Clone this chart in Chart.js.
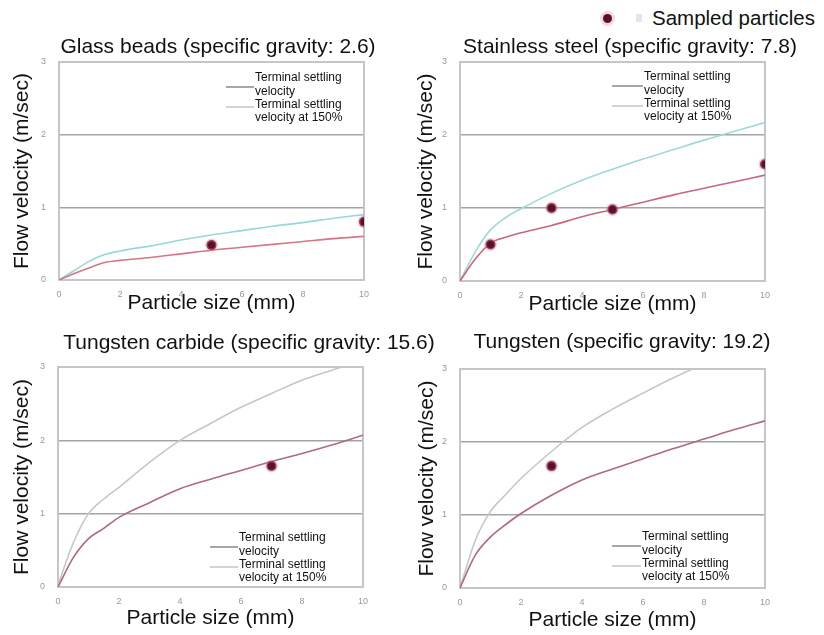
<!DOCTYPE html>
<html>
<head>
<meta charset="utf-8">
<script src="https://cdn.jsdelivr.net/npm/chart.js@4.4.0/dist/chart.umd.min.js"></script>
<style>
  html, body { margin: 0; padding: 0; background: #fff; overflow: hidden; }
  body { width: 824px; height: 635px; position: relative; font-family: "Liberation Sans", Arial, sans-serif; }
  canvas { position: absolute; }
  #sampled { position: absolute; left: 596px; top: 6px; height: 24px; display: flex; align-items: center; font-size: 20.5px; color: #111; }
  #sampled .dot { width: 9px; height: 9px; border-radius: 50%; background: #5a1028; box-shadow: 0 0 0 3px rgba(230,140,160,0.35); margin-left: 7px; }
  #sampled .ghost { width: 6px; height: 8px; background: #e6e6e6; margin-left: 24px; margin-right: 10px; }
</style>
</head>
<body>
<div id="sampled"><span class="dot"></span><span class="ghost"></span>Sampled particles</div>
<canvas id="c1"></canvas>
<canvas id="c2"></canvas>
<canvas id="c3"></canvas>
<canvas id="c4"></canvas>
<script>
// particle size (mm) at which each curve was read
const particleSize = [0, 0.5, 1, 1.5, 2, 3, 4, 5, 6, 7, 8, 9, 10];

const glassTerminal = [0, 0.09, 0.17, 0.24, 0.27, 0.31, 0.36, 0.41, 0.45, 0.49, 0.53, 0.57, 0.6];
const glass150 = [0, 0.13, 0.26, 0.35, 0.4, 0.47, 0.55, 0.62, 0.68, 0.74, 0.79, 0.85, 0.9];
const glassSampleSize = [5, 10];
const glassSampleVel = [0.48, 0.8];

const steelTerminal = [0, 0.3, 0.52, 0.6, 0.66, 0.76, 0.88, 0.98, 1.08, 1.18, 1.27, 1.36, 1.45];
const steel150 = [0, 0.4, 0.7, 0.87, 0.99, 1.2, 1.38, 1.53, 1.67, 1.8, 1.93, 2.05, 2.17];
const steelSampleSize = [1, 3, 5, 10];
const steelSampleVel = [0.5, 1.0, 0.98, 1.6];

const carbideTerminal = [0, 0.4, 0.66, 0.8, 0.95, 1.15, 1.34, 1.47, 1.59, 1.71, 1.82, 1.94, 2.07];
const carbide150 = [0.03, 0.6, 1.0, 1.2, 1.36, 1.7, 2.0, 2.23, 2.45, 2.64, 2.82, 2.96, 3.1];
const carbideSampleSize = [7];
const carbideSampleVel = [1.65];

const tungstenTerminal = [0, 0.45, 0.7, 0.87, 1.02, 1.27, 1.48, 1.63, 1.77, 1.91, 2.04, 2.17, 2.29];
const tungsten150 = [0, 0.65, 1.05, 1.28, 1.5, 1.87, 2.2, 2.45, 2.67, 2.88, 3.07, 3.25, 3.43];
const tungstenSampleSize = [3];
const tungstenSampleVel = [1.67];

const xTicks = [0, 2, 4, 6, 8, 10];
const yTicks = [0, 1, 2, 3];

const legendLines = ['Terminal settling', 'velocity', 'Terminal settling', 'velocity at 150%'];

const panels = [
  { id: 'c1', title: 'Glass beads (specific gravity: 2.6)', terminal: glassTerminal, boosted: glass150,
    sx: glassSampleSize, sy: glassSampleVel,
    left: 0, top: 30, w: 436, h: 286, yw: 59, rw: 72, xh: 36, tPad: [5, 1.8], yPad: 10,
    red: '#d47686', cyan: '#96d8d8', leg: [226, 254, 78] },
  { id: 'c2', title: 'Stainless steel (specific gravity: 7.8)', terminal: steelTerminal, boosted: steel150,
    sx: steelSampleSize, sy: steelSampleVel,
    left: 410, top: 30, w: 440, h: 287, yw: 50, rw: 85, xh: 36, tPad: [5, 1.8], yPad: 4,
    red: '#c8677a', cyan: '#9ed9d9', leg: [612, 643, 77] },
  { id: 'c3', title: 'Tungsten carbide (specific gravity: 15.6)', terminal: carbideTerminal, boosted: carbide150,
    sx: carbideSampleSize, sy: carbideSampleVel,
    left: 0, top: 325, w: 498, h: 306, yw: 58, rw: 135, xh: 44, tPad: [5.4, 11.4], yPad: 10,
    red: '#b06a78', cyan: '#c2c8c8', leg: [210, 238, 538] },
  { id: 'c4', title: 'Tungsten (specific gravity: 19.2)', terminal: tungstenTerminal, boosted: tungsten150,
    sx: tungstenSampleSize, sy: tungstenSampleVel,
    left: 410, top: 325, w: 424, h: 308, yw: 50, rw: 69, xh: 45, tPad: [4.4, 14.4], yPad: 5,
    red: '#b06a78', cyan: '#c2c8c8', leg: [612, 641, 537] }
];

const frame = {
  id: 'frame',
  beforeDatasetsDraw(chart) {
    const a = chart.chartArea, ctx = chart.ctx;
    ctx.save();
    ctx.strokeStyle = '#c6c6c6';
    ctx.lineWidth = 2;
    ctx.strokeRect(a.left, a.top, a.right - a.left, a.bottom - a.top);
    ctx.restore();
  }
};

const seriesLegend = {
  id: 'seriesLegend',
  afterDraw(chart, args, opts) {
    const ctx = chart.ctx;
    const x0 = opts.x - opts.left, tx = opts.tx - opts.left, y0 = opts.y - opts.top;
    ctx.save();
    ctx.lineWidth = 1.5;
    ctx.strokeStyle = '#8a8a8a';
    ctx.beginPath(); ctx.moveTo(x0, y0 + 9); ctx.lineTo(tx, y0 + 9); ctx.stroke();
    ctx.strokeStyle = '#c4c4c4';
    ctx.beginPath(); ctx.moveTo(x0, y0 + 29); ctx.lineTo(tx, y0 + 29); ctx.stroke();
    ctx.fillStyle = '#111';
    ctx.font = '12px "Liberation Sans", Arial, sans-serif';
    ctx.textBaseline = 'middle';
    legendLines.forEach((t, i) => ctx.fillText(t, tx + 1, y0 + i * 13.2));
    ctx.restore();
  }
};

panels.forEach(p => {
  const canvas = document.getElementById(p.id);
  canvas.style.left = p.left + 'px';
  canvas.style.top = p.top + 'px';
  canvas.width = p.w;
  canvas.height = p.h;

  new Chart(canvas.getContext('2d'), {
    type: 'line',
    data: {
      datasets: [
        {
          label: 'Sampled particles',
          data: p.sx.map((x, i) => ({ x: x, y: p.sy[i] })),
          showLine: false,
          pointRadius: 5,
          pointBackgroundColor: '#5a1028',
          pointBorderColor: 'rgba(225,130,155,0.4)',
          pointBorderWidth: 3,
          order: 0
        },
        {
          label: 'Terminal settling velocity',
          data: particleSize.map((x, i) => ({ x: x, y: p.terminal[i] })),
          borderColor: p.red,
          borderWidth: 1.6,
          pointRadius: 0,
          cubicInterpolationMode: 'monotone',
          order: 1
        },
        {
          label: 'Terminal settling velocity at 150%',
          data: particleSize.map((x, i) => ({ x: x, y: p.boosted[i] })),
          borderColor: p.cyan,
          borderWidth: 1.6,
          pointRadius: 0,
          cubicInterpolationMode: 'monotone',
          order: 2
        }
      ]
    },
    options: {
      responsive: false,
      animation: false,
      devicePixelRatio: 1,
      layout: { padding: 0 },
      plugins: {
        legend: { display: false },
        tooltip: { enabled: false },
        title: {
          display: true,
          text: p.title,
          color: '#111',
          font: { family: '"Liberation Sans", Arial, sans-serif', size: 21, weight: 'normal' },
          padding: { top: p.tPad[0], bottom: p.tPad[1] }
        },
        seriesLegend: { x: p.leg[0], tx: p.leg[1], y: p.leg[2], left: p.left, top: p.top }
      },
      scales: {
        x: {
          type: 'linear',
          min: 0,
          max: 10,
          afterBuildTicks: s => { s.ticks = xTicks.map(v => ({ value: v })); },
          afterFit: s => { s.height = p.xh; },
          grid: { display: false },
          border: { display: false },
          ticks: { color: '#999', font: { size: 9 }, padding: 1 },
          title: {
            display: true,
            text: 'Particle size (mm)',
            color: '#111',
            font: { family: '"Liberation Sans", Arial, sans-serif', size: 21 },
            padding: 0
          }
        },
        y: {
          min: 0,
          max: 3,
          afterBuildTicks: s => { s.ticks = yTicks.map(v => ({ value: v })); },
          afterFit: s => { s.width = p.yw; },
          grid: {
            drawTicks: false,
            lineWidth: 1.5,
            color: c => (c.tick && (c.tick.value === 1 || c.tick.value === 2)) ? '#a4a4a4' : 'rgba(0,0,0,0)'
          },
          border: { display: false },
          ticks: { color: '#999', font: { size: 9 }, padding: 13 },
          title: {
            display: true,
            text: 'Flow velocity (m/sec)',
            color: '#111',
            font: { family: '"Liberation Sans", Arial, sans-serif', size: 21 },
            padding: { top: p.yPad, bottom: 0 }
          }
        },
        // empty right-hand axis that only reserves the margin right of the plot
        spacer: {
          type: 'linear',
          position: 'right',
          display: true,
          afterFit: s => { s.width = p.rw; },
          grid: { display: false },
          border: { display: false },
          ticks: { display: false }
        }
      }
    },
    plugins: [frame, seriesLegend]
  });
});
</script>
</body>
</html>
